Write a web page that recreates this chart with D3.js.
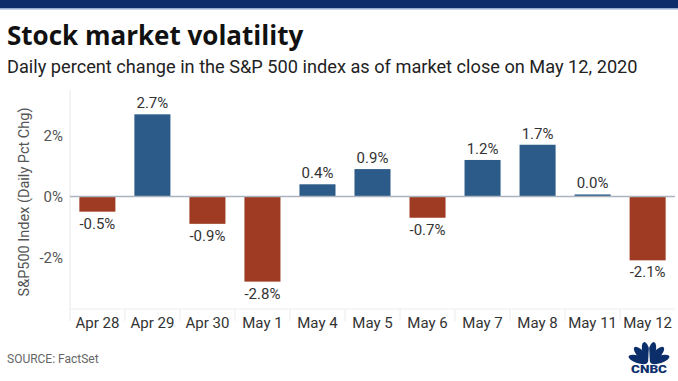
<!DOCTYPE html>
<html><head><meta charset="utf-8">
<script src="https://cdn.jsdelivr.net/npm/d3@7"></script>
<style>
html,body{margin:0;padding:0;background:#fff;}
svg{display:block;font-family:Roboto, "Open Sans", sans-serif;}
</style></head>
<body><svg id="chart" width="678" height="381"></svg>
<script>
const categories = ["Apr 28","Apr 29","Apr 30","May 1","May 4","May 5","May 6","May 7","May 8","May 11","May 12"];
const values = [-0.5, 2.7, -0.9, -2.8, 0.4, 0.9, -0.7, 1.2, 1.7, 0.0, -2.1];
const valueLabels = ["-0.5%","2.7%","-0.9%","-2.8%","0.4%","0.9%","-0.7%","1.2%","1.7%","0.0%","-2.1%"];
const yTicks = [-2, 0, 2];
const yTickLabels = ["-2%","0%","2%"];

const svg = d3.select("#chart");
const W = 678, H = 381;
const plot = {left:70, right:675, top:90, bottom:309};

// header band
svg.append("rect").attr("x",0).attr("y",0).attr("width",W).attr("height",8.5).attr("fill","#0c2f6b");
svg.append("rect").attr("x",0).attr("y",8.5).attr("width",W).attr("height",1.2).attr("fill","#a9c4e4");

svg.append("text").attr("x",7).attr("y",45).attr("font-size",26).attr("font-weight",700)
  .attr("font-family","'Open Sans', sans-serif")
  .attr("fill","#111").text("Stock market volatility");
svg.append("text").attr("x",7).attr("y",73).attr("font-size",18.2).attr("fill","#222")
  .text("Daily percent change in the S&P 500 index as of market close on May 12, 2020");

const x = d3.scaleBand().domain(categories).range([plot.left, plot.right]).paddingInner(0.345).paddingOuter(0.17);
const y = d3.scaleLinear().domain([-3.7, 3.5]).range([plot.bottom, plot.top]);

// frame lines
svg.append("line").attr("x1",plot.left).attr("x2",plot.left).attr("y1",plot.top).attr("y2",plot.bottom+12)
  .attr("stroke","#e8e8e8").attr("stroke-width",1);
svg.append("line").attr("x1",plot.left).attr("x2",plot.right).attr("y1",plot.bottom).attr("y2",plot.bottom)
  .attr("stroke","#ececec").attr("stroke-width",1);
const step = x.step();
svg.append("g").selectAll("line").data(categories.slice(1)).join("line")
  .attr("x1",d=>x(d)-(step-x.bandwidth())/2).attr("x2",d=>x(d)-(step-x.bandwidth())/2)
  .attr("y1",plot.bottom).attr("y2",plot.bottom+12).attr("stroke","#ececec");

// y axis
const yAxis = d3.axisLeft(y).tickValues(yTicks).tickFormat((d,i)=>yTickLabels[i]).tickSize(0).tickPadding(7);
const gy = svg.append("g").attr("transform",`translate(${plot.left},0)`).call(yAxis);
gy.select(".domain").remove();
gy.selectAll("text").attr("font-size",15).attr("fill","#555").attr("font-family","Roboto, sans-serif");

// y axis title
svg.append("text").attr("transform","translate(29,202) rotate(-90)").attr("text-anchor","middle")
  .attr("font-size",14.5).attr("fill","#555").text("S&P500 Index (Daily Pct Chg)");

// x axis
const xAxis = d3.axisBottom(x).tickSize(0).tickPadding(8.5);
const gx = svg.append("g").attr("transform",`translate(0,${plot.bottom})`).call(xAxis);
gx.select(".domain").remove();
gx.selectAll("text").attr("font-size",15).attr("fill","#333").attr("font-family","Roboto, sans-serif");

// bars
svg.append("g").selectAll("rect").data(values).join("rect")
  .attr("x",(d,i)=>x(categories[i])).attr("width",x.bandwidth())
  .attr("y",d=> d>=0 ? Math.min(y(d), y(0)-2) : y(0))
  .attr("height",d=> Math.max(2, Math.abs(y(d)-y(0))))
  .attr("fill",d=> d>=0 ? "#2c5b89" : "#9e3b22");

// zero line
svg.append("line").attr("x1",plot.left).attr("x2",plot.right).attr("y1",y(0)).attr("y2",y(0))
  .attr("stroke","#aab4c1").attr("stroke-width",1.5);

// value labels
svg.append("g").selectAll("text").data(values).join("text")
  .attr("x",(d,i)=>x(categories[i])+x.bandwidth()/2)
  .attr("y",d=> d>=0 ? Math.min(y(d), y(0)-2)-6 : y(d)+17)
  .attr("text-anchor","middle").attr("font-size",15).attr("fill","#333")
  .text((d,i)=>valueLabels[i]);

// source
svg.append("text").attr("x",7).attr("y",363).attr("font-size",12).attr("fill","#666").text("SOURCE: FactSet");

// CNBC logo
const logo = svg.append("g").attr("transform","translate(649,363)");
const angles = [-72,-43,-14,14,43,72];
logo.selectAll("ellipse").data(angles).join("ellipse")
  .attr("cx",0).attr("cy",-11.5).attr("rx",3.8).attr("ry",10)
  .attr("transform",a=>`rotate(${a})`).attr("fill","#0c2f6b");
logo.append("path").attr("d","M-1,1 L0,-18 L1,1 Z").attr("fill","#fff");
logo.append("text").attr("x",-18).attr("y",10).attr("textLength",36).attr("lengthAdjust","spacingAndGlyphs")
  .attr("font-size",10.5).attr("font-weight",900).attr("font-family","Roboto, sans-serif")
  .attr("fill","#0c2f6b").text("CNBC");
</script></body></html>
